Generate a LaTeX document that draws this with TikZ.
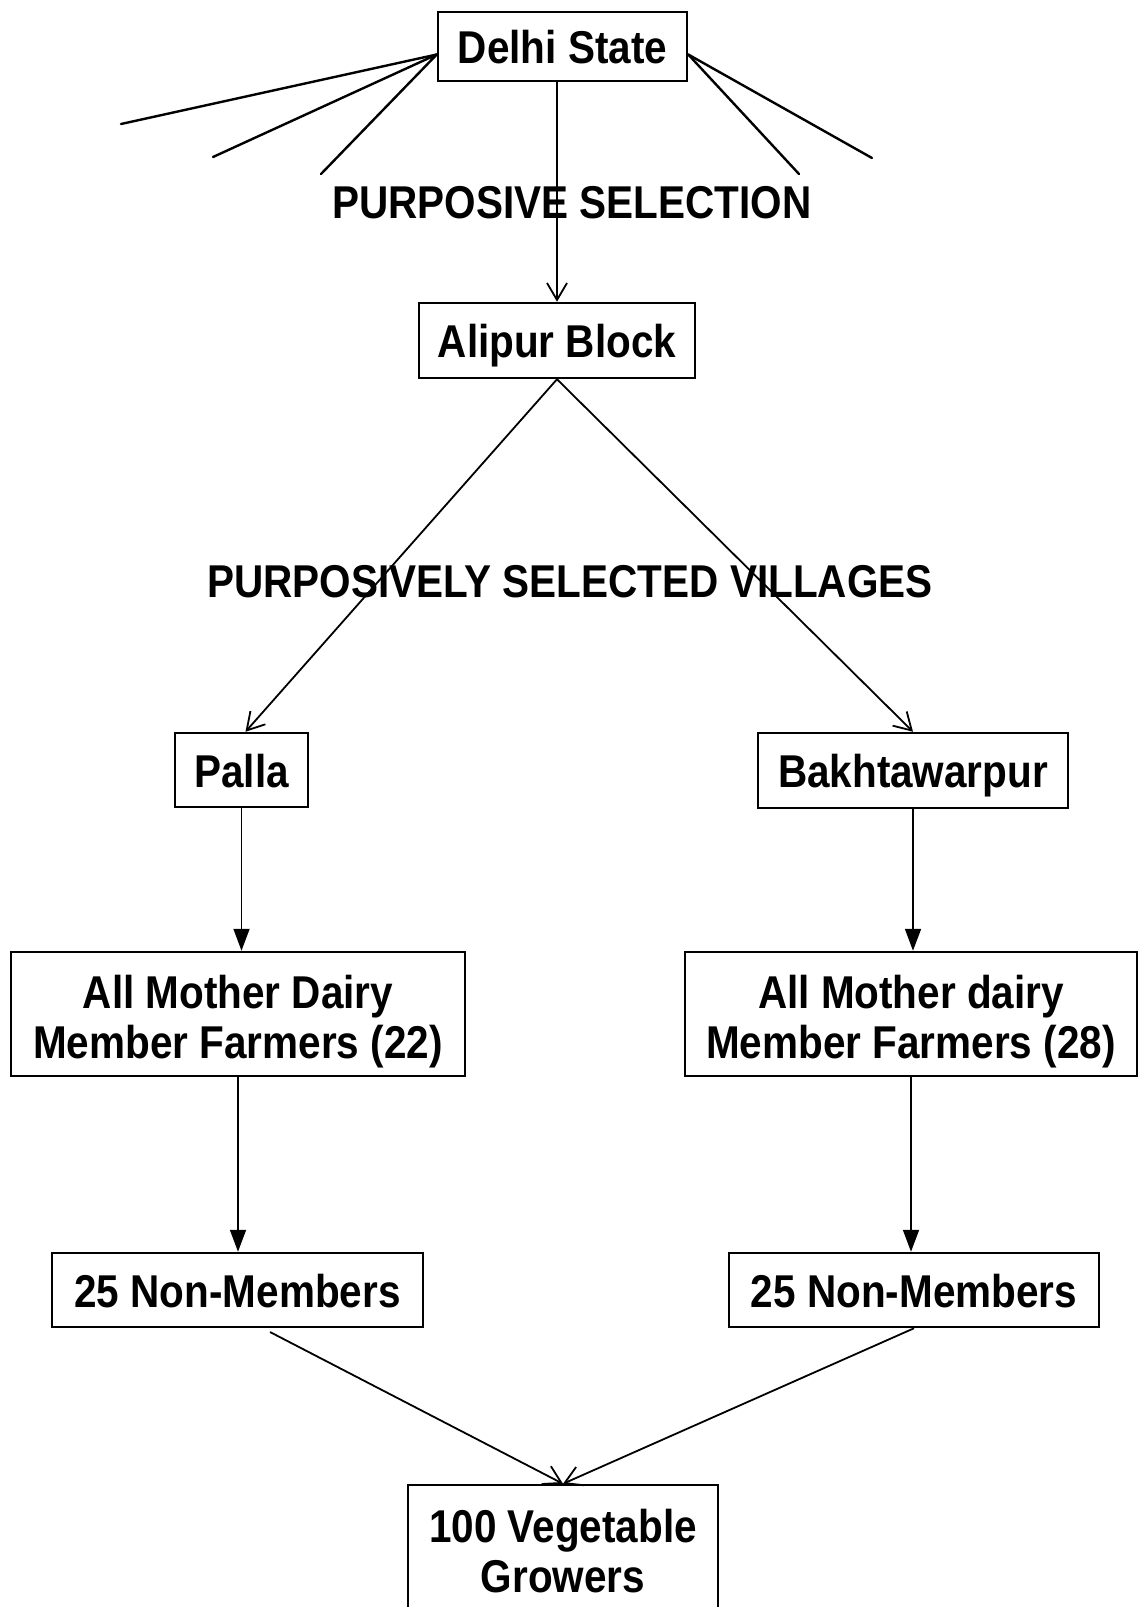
\documentclass[tikz,border=0pt]{standalone}
\usepackage{fontspec}
\setmainfont{Liberation Sans}[FakeStretch=0.88]
\usetikzlibrary{arrows.meta}
\tikzset{
  txt/.style={font=\fontsize{46}{50}\selectfont\bfseries},
  box/.style={draw, line width=2.5pt, inner sep=0pt, align=center, txt},
  one/.style={text height=34pt, text depth=0pt},
  lbl/.style={inner sep=0pt, txt},
  openarr/.style={line width=1.8pt, -{Straight Barb[length=17pt,width=20pt,line width=1.8pt]}},
  fillarr/.style={line width=1.8pt, -{Triangle[length=22pt,width=16pt]}},
  fan/.style={line width=2.4pt, line cap=round},
}
\begin{document}
\begin{tikzpicture}[x=1pt,y=-1pt]
\useasboundingbox (0,0) rectangle (1139,1607);
\fill[white] (0,0) rectangle (1139,1607);

% boxes
\node[box, one, minimum width=249pt, minimum height=69pt] (delhi) at (562.5,46.5) {Delhi State};
\node[box, one, minimum width=276pt, minimum height=75pt] (alipur) at (557,340.5) {Alipur Block};
\node[box, one, minimum width=133pt, minimum height=74pt] (palla) at (241.5,770) {Palla};
\node[box, one, minimum width=310pt, minimum height=75pt] (bakht) at (913,770.5) {Bakhtawarpur};
\node[box, minimum width=454pt, minimum height=124pt] (amdl) at (238,1014) {\rule{0pt}{48pt}All Mother Dairy\\Member Farmers (22)};
\node[box, minimum width=452pt, minimum height=124pt] (amdr) at (911,1014) {\rule{0pt}{48pt}All Mother dairy\\Member Farmers (28)};
\node[box, one, minimum width=371pt, minimum height=74pt] (nml) at (237.5,1290) {25 Non-Members};
\node[box, one, minimum width=370pt, minimum height=74pt] (nmr) at (914,1290) {25 Non-Members};
\node[box, minimum width=310pt, minimum height=170pt] (veg) at (563,1570) {};
\node[lbl, align=center] (vegtext) at (563,1551) {100 Vegetable\\Growers};

% labels
\node[lbl, one] (sel1) at (572,201) {PURPOSIVE SELECTION};
\node[lbl, one] (sel2) at (570,580) {PURPOSIVELY SELECTED VILLAGES};

% fan lines from Delhi State
\coordinate (fl1) at (121,124);
\coordinate (fl2) at (213,157);
\coordinate (fl3) at (321,174);
\coordinate (fr1) at (872,158);
\coordinate (fr2) at (799,174);
\draw[fan] ([yshift=-8pt]delhi.west) -- (fl1);
\draw[fan] ([yshift=-8pt]delhi.west) -- (fl2);
\draw[fan] ([yshift=-8pt]delhi.west) -- (fl3);
\draw[fan] ([yshift=-8pt]delhi.east) -- (fr1);
\draw[fan] ([yshift=-8pt]delhi.east) -- (fr2);

% connectors
\draw[openarr] (delhi.south -| alipur.north) -- (alipur.north);
\draw[openarr] (alipur.south) -- ([xshift=4pt]palla.north);
\draw[openarr] (alipur.south) -- (bakht.north);
\draw[fillarr] (palla.south) -- (palla.south |- amdl.north);
\draw[fillarr] (bakht.south) -- (bakht.south |- amdr.north);
\draw[fillarr] (amdl.south) -- (amdl.south |- nml.north);
\draw[fillarr] (amdr.south) -- (amdr.south |- nmr.north);
\coordinate (nmlout) at (270,1332);
\draw[openarr] (nmlout) -- (veg.north);
\draw[openarr] (nmr.south) -- (veg.north);
\end{tikzpicture}
\end{document}
